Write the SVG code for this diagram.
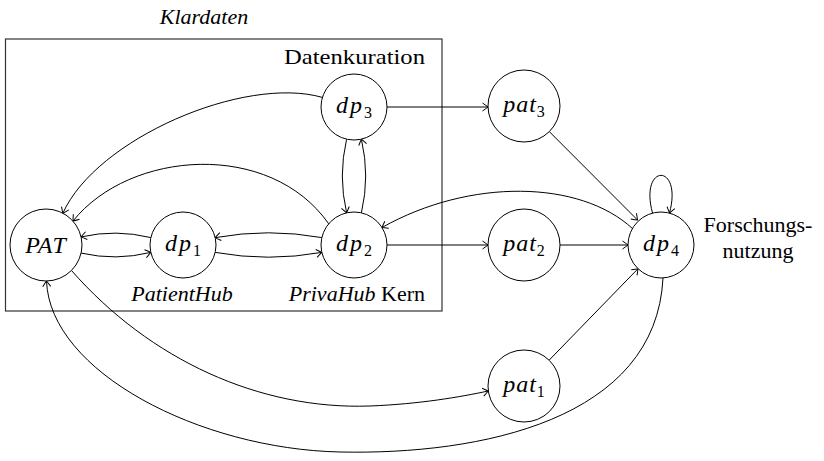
<svg xmlns="http://www.w3.org/2000/svg" width="824" height="461" viewBox="0 0 824 461">
<defs>
<marker id="arr" markerUnits="userSpaceOnUse" markerWidth="14" markerHeight="14" refX="0" refY="0" viewBox="-8 -7 10 14" orient="auto" overflow="visible">
<path d="M-5.5,-4 Q-1.5,-1.2 0,0 Q-1.5,1.2 -5.5,4" fill="none" stroke="#000" stroke-width="1"/>
</marker>
</defs>
<style>
.t{font-family:"Liberation Serif","Times New Roman",serif;font-size:22px;fill:#000}
.i{font-style:italic}
.m{font-family:"Liberation Serif","Times New Roman",serif;font-size:24px;font-style:italic;fill:#000;text-anchor:middle}
.s{font-style:normal;font-size:16px}
.n{fill:#fff;stroke:#000;stroke-width:1}
.e{fill:none;stroke:#000;stroke-width:1;marker-end:url(#arr)}
</style>
<rect width="824" height="461" fill="#fff"/>
<g id="box">
<rect x="5.5" y="39" width="436.5" height="272" fill="none" stroke="#333" stroke-width="1.2"/>
</g>
<g id="labels">
<text class="t i" x="204" y="24" text-anchor="middle">Klardaten</text>
<text class="t" x="425" y="64" text-anchor="end" textLength="141" lengthAdjust="spacingAndGlyphs">Datenkuration</text>
<text class="t i" x="182" y="301" text-anchor="middle">PatientHub</text>
<text class="t" x="425" y="301" text-anchor="end"><tspan class="i">PrivaHub</tspan> Kern</text>
<text class="t" x="758" y="232" text-anchor="middle">Forschungs-</text>
<text class="t" x="758" y="258" text-anchor="middle">nutzung</text>
</g>
<g id="connectors">
<path class="e" d="M387,107 L488,107"/>
<path class="e" d="M387,245 L488,245"/>
<path class="e" d="M560,245 L628,245"/>
<path class="e" d="M549.3,131.6 L637.5,220"/>
<path class="e" d="M549.1,360.2 L638,268.7"/>
<path class="e" d="M150.8,237.6 Q116,229 81.1,236.9"/>
<path class="e" d="M81.1,253.1 Q116,261 150.8,252.4"/>
<path class="e" d="M321.8,237.6 Q268.5,228 215.2,237.6"/>
<path class="e" d="M215.2,252.4 Q268.5,262 321.8,252.4"/>
<path class="e" d="M346.6,139.2 Q338,176 346.6,212.8"/>
<path class="e" d="M361.4,212.8 Q370,176 361.4,139.2"/>
<path class="e" d="M322.4,97.4 C244,75 96,139 62.9,213.2"/>
<path class="e" d="M328.7,223.8 C270,140 130,150 73,221"/>
<path class="e" d="M632.4,228.5 C580,180 470,178 382,227.5"/>
<path class="e" d="M652.5,213 C639,162.8 683,162.8 669.5,213"/>
<path class="e" d="M71.5,270.5 C150,360 260,410 370,406 C420,404 460,397 488.3,391"/>
<path class="e" d="M663,278 C656,420 480,455 340,452 C200,449 50,372 46.5,281"/>
</g>
<g id="PAT"><circle class="n" cx="46" cy="245" r="36"/><text class="m" x="46" y="253" letter-spacing="1">PAT</text></g>
<g id="dp1"><circle class="n" cx="183" cy="245" r="33"/><text class="m" x="183" y="251"><tspan letter-spacing="2">dp</tspan><tspan class="s" dy="5">1</tspan></text></g>
<g id="dp2"><circle class="n" cx="354" cy="245" r="33"/><text class="m" x="354" y="251"><tspan letter-spacing="2">dp</tspan><tspan class="s" dy="5">2</tspan></text></g>
<g id="dp3"><circle class="n" cx="354" cy="107" r="33"/><text class="m" x="354" y="113"><tspan letter-spacing="2">dp</tspan><tspan class="s" dy="5">3</tspan></text></g>
<g id="dp4"><circle class="n" cx="661" cy="245" r="33"/><text class="m" x="661" y="251"><tspan letter-spacing="2">dp</tspan><tspan class="s" dy="5">4</tspan></text></g>
<g id="pat3"><circle class="n" cx="524" cy="106" r="36"/><text class="m" x="524" y="112"><tspan letter-spacing="1">pat</tspan><tspan class="s" dy="5">3</tspan></text></g>
<g id="pat2"><circle class="n" cx="524" cy="245" r="36"/><text class="m" x="524" y="251"><tspan letter-spacing="1">pat</tspan><tspan class="s" dy="5">2</tspan></text></g>
<g id="pat1"><circle class="n" cx="524" cy="386" r="36"/><text class="m" x="524" y="392"><tspan letter-spacing="1">pat</tspan><tspan class="s" dy="5">1</tspan></text></g>
</svg>
